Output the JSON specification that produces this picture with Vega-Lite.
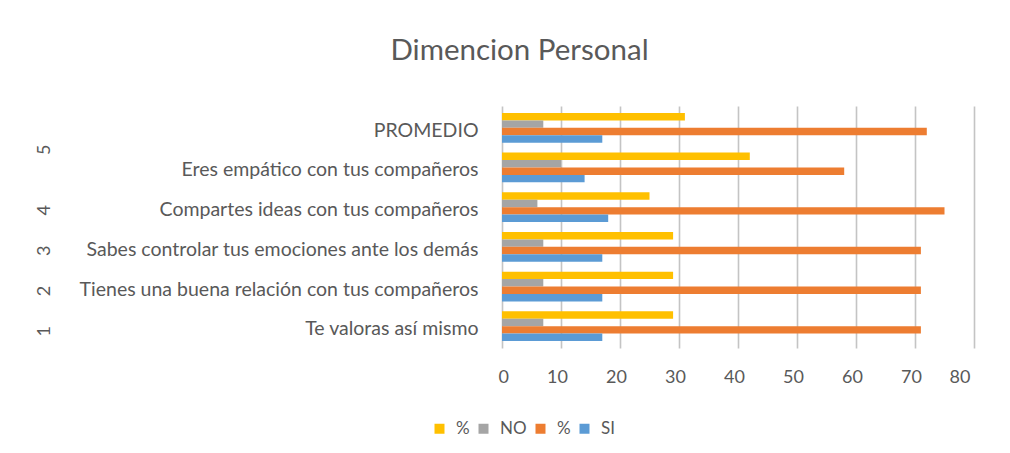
{
  "$schema": "https://vega.github.io/schema/vega-lite/v6.json",
  "autosize": {"type": "none"},
  "width": 472,
  "height": 242,
  "padding": {"left": 502, "top": 106, "right": 36, "bottom": 105},
  "background": "white",
  "config": {
    "view": {"stroke": null},
    "font": "Lato",
    "axis": {"labelColor": "#595959", "labelFont": "Lato", "labelFontSize": 18}
  },
  "title": {
    "text": "Dimencion Personal",
    "fontSize": 29.5,
    "font": "Lato",
    "fontWeight": "normal",
    "color": "#595959",
    "anchor": "middle",
    "frame": "bounds",
    "offset": 40,
    "dx": 15
  },
  "datasets": {
    "bars": [
      {"cat": "PROMEDIO", "serie": "% NO", "val": 31},
      {"cat": "PROMEDIO", "serie": "NO", "val": 7},
      {"cat": "PROMEDIO", "serie": "% SI", "val": 72},
      {"cat": "PROMEDIO", "serie": "SI", "val": 17},
      {"cat": "Eres empático con tus compañeros", "serie": "% NO", "val": 42},
      {"cat": "Eres empático con tus compañeros", "serie": "NO", "val": 10},
      {"cat": "Eres empático con tus compañeros", "serie": "% SI", "val": 58},
      {"cat": "Eres empático con tus compañeros", "serie": "SI", "val": 14},
      {"cat": "Compartes ideas con tus compañeros", "serie": "% NO", "val": 25},
      {"cat": "Compartes ideas con tus compañeros", "serie": "NO", "val": 6},
      {"cat": "Compartes ideas con tus compañeros", "serie": "% SI", "val": 75},
      {"cat": "Compartes ideas con tus compañeros", "serie": "SI", "val": 18},
      {"cat": "Sabes controlar tus emociones ante los demás", "serie": "% NO", "val": 29},
      {"cat": "Sabes controlar tus emociones ante los demás", "serie": "NO", "val": 7},
      {"cat": "Sabes controlar tus emociones ante los demás", "serie": "% SI", "val": 71},
      {"cat": "Sabes controlar tus emociones ante los demás", "serie": "SI", "val": 17},
      {"cat": "Tienes una buena relación con tus compañeros", "serie": "% NO", "val": 29},
      {"cat": "Tienes una buena relación con tus compañeros", "serie": "NO", "val": 7},
      {"cat": "Tienes una buena relación con tus compañeros", "serie": "% SI", "val": 71},
      {"cat": "Tienes una buena relación con tus compañeros", "serie": "SI", "val": 17},
      {"cat": "Te valoras así mismo", "serie": "% NO", "val": 29},
      {"cat": "Te valoras así mismo", "serie": "NO", "val": 7},
      {"cat": "Te valoras así mismo", "serie": "% SI", "val": 71},
      {"cat": "Te valoras así mismo", "serie": "SI", "val": 17}
    ],
    "levels": [
      {"cat": "PROMEDIO", "num": "5"},
      {"cat": "Eres empático con tus compañeros", "num": ""},
      {"cat": "Compartes ideas con tus compañeros", "num": "4"},
      {"cat": "Sabes controlar tus emociones ante los demás", "num": "3"},
      {"cat": "Tienes una buena relación con tus compañeros", "num": "2"},
      {"cat": "Te valoras así mismo", "num": "1"}
    ]
  },
  "layer": [
    {
      "data": {"name": "bars"},
      "mark": {"type": "bar", "stroke": null},
      "encoding": {
        "y": {
          "field": "cat",
          "type": "nominal",
          "sort": ["PROMEDIO", "Eres empático con tus compañeros", "Compartes ideas con tus compañeros", "Sabes controlar tus emociones ante los demás", "Tienes una buena relación con tus compañeros", "Te valoras así mismo"],
          "scale": {"paddingInner": 0.25, "paddingOuter": 0.175},
          "axis": {"title": null, "domain": false, "ticks": false, "labelPadding": 24, "labelLimit": 600, "labelFontSize": 19.5, "labelOffset": 3}
        },
        "yOffset": {
          "field": "serie",
          "type": "nominal",
          "sort": ["% NO", "NO", "% SI", "SI"]
        },
        "x": {
          "field": "val",
          "type": "quantitative",
          "scale": {"domain": [0, 80], "nice": false},
          "axis": {
            "title": null,
            "values": [0, 10, 20, 30, 40, 50, 60, 70, 80],
            "domain": false,
            "ticks": false,
            "grid": true,
            "gridColor": "#C4C4C4",
            "gridWidth": 1.6,
            "labelPadding": 20,
            "labelOffset": -4,
            "labelFontSize": 18
          }
        },
        "color": {
          "field": "serie",
          "type": "nominal",
          "scale": {"domain": ["% NO", "NO", "% SI", "SI"], "range": ["#FFC000", "#A5A5A5", "#ED7D31", "#5B9BD5"]},
          "legend": {
            "title": null,
            "orient": "none",
            "direction": "horizontal",
            "legendX": -71,
            "legendY": 314,
            "symbolType": "square",
            "symbolSize": 100,
            "symbolStrokeWidth": 0,
            "labelFontSize": 17,
            "labelColor": "#595959",
            "labelFont": "Lato",
            "labelOffset": 8,
            "columnPadding": 5,
            "labelExpr": "indexof(datum.label, '%') == 0 ? '%' : datum.label"
          }
        }
      }
    },
    {
      "data": {"name": "levels"},
      "mark": {"type": "text", "opacity": 0},
      "encoding": {
        "text": {"field": "num"},
        "y": {
          "field": "cat",
          "type": "nominal",
          "sort": ["PROMEDIO", "Eres empático con tus compañeros", "Compartes ideas con tus compañeros", "Sabes controlar tus emociones ante los demás", "Tienes una buena relación con tus compañeros", "Te valoras así mismo"],
          "scale": {"paddingInner": 0.25, "paddingOuter": 0.175},
          "axis": {
            "orient": "left",
            "title": null,
            "domain": false,
            "ticks": false,
            "offset": 445,
            "labelPadding": 4,
            "labelAngle": 270,
            "labelAlign": "center",
            "labelBaseline": "bottom",
            "labelFontSize": 18,
            "labelOffset": {"condition": {"test": "datum.label == 'PROMEDIO'", "value": 23}, "value": 3},
            "labelExpr": "datum.label == 'PROMEDIO' ? '5' : datum.label == 'Compartes ideas con tus compañeros' ? '4' : datum.label == 'Sabes controlar tus emociones ante los demás' ? '3' : datum.label == 'Tienes una buena relación con tus compañeros' ? '2' : datum.label == 'Te valoras así mismo' ? '1' : ''"
          }
        }
      }
    }
  ],
  "resolve": {"scale": {"y": "independent"}}
}
